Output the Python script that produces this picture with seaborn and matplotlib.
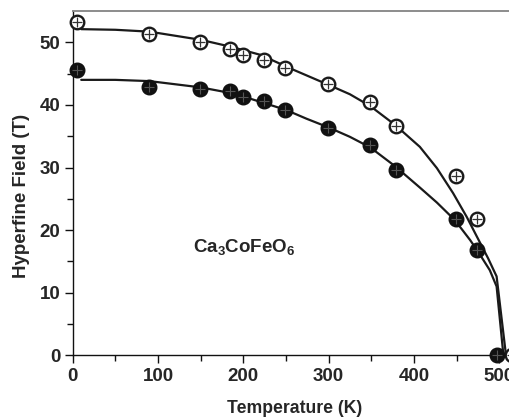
import matplotlib
matplotlib.use("Agg")
import matplotlib.pyplot as plt
import matplotlib.transforms as mtransforms
import seaborn as sns
import pandas as pd

# ---- data ----
T_open = [5, 90, 149, 184, 200, 224, 249, 299, 349, 379, 449, 474, 515]
H_open = [53.3, 51.4, 50.0, 48.9, 48.0, 47.1, 45.9, 43.3, 40.4, 36.7, 28.6, 21.8, 0.0]

T_fill = [5, 90, 149, 184, 200, 224, 249, 299, 349, 379, 449, 474, 498]
H_fill = [45.5, 42.8, 42.5, 42.2, 41.3, 40.6, 39.2, 36.3, 33.6, 29.6, 21.8, 16.8, 0.0]

T_fit_up = [10, 50, 90, 150, 185, 220, 259, 300, 325, 349, 378, 407, 427, 446, 462, 476, 487, 497, 508]
H_fit_up = [52.1, 52.0, 51.7, 50.4, 49.3, 48.0, 45.6, 43.2, 41.7, 39.8, 36.8, 33.3, 29.9, 25.9, 22.1, 18.4, 15.5, 12.6, 0.0]

T_fit_lo = [10, 50, 90, 150, 185, 208, 250, 274, 300, 325, 349, 378, 407, 427, 448, 466, 476, 489, 497, 505]
H_fit_lo = [44.0, 44.0, 43.8, 42.8, 41.9, 41.0, 39.2, 37.8, 36.4, 34.9, 33.2, 30.2, 26.8, 24.4, 21.6, 18.4, 16.4, 13.6, 11.0, 0.0]

x_ticks = [0, 100, 200, 300, 400, 500]
y_ticks = [0, 10, 20, 30, 40, 50]

sns.set_style("ticks")
plt.rcParams["font.family"] = ["Liberation Sans", "DejaVu Sans"]
plt.rcParams["font.weight"] = "bold"
plt.rcParams["mathtext.fontset"] = "custom"
plt.rcParams["mathtext.rm"] = "Liberation Sans:bold"
plt.rcParams["mathtext.it"] = "Liberation Sans:bold"
plt.rcParams["mathtext.bf"] = "Liberation Sans:bold"

W, H = 510, 417
x0, y_axis, y_top = 72.7, 355.3, 11.0
fig = plt.figure(figsize=(W / 100, H / 100), dpi=100)
ax = fig.add_axes([x0 / W, (H - y_axis) / H, 1 - x0 / W, (y_axis - y_top) / H])
ax_w, ax_h = W - x0, y_axis - y_top

df_up = pd.DataFrame({"T": T_fit_up, "H": H_fit_up})
df_lo = pd.DataFrame({"T": T_fit_lo, "H": H_fit_lo})
sns.lineplot(data=df_up, x="T", y="H", sort=False, color="#1a1a1a", lw=1.6, ax=ax)
sns.lineplot(data=df_lo, x="T", y="H", sort=False, color="#1a1a1a", lw=1.6, ax=ax)

df_o = pd.DataFrame({"T": T_open, "H": H_open})
df_f = pd.DataFrame({"T": T_fill, "H": H_fill})
sns.scatterplot(data=df_o, x="T", y="H", marker="o", s=95, facecolor="white",
                edgecolor="#1a1a1a", linewidth=1.7, ax=ax, clip_on=False, zorder=5)
sns.scatterplot(data=df_o, x="T", y="H", marker="+", s=45, color="#333333",
                linewidth=0.9, ax=ax, clip_on=False, zorder=6)
sns.scatterplot(data=df_f, x="T", y="H", marker="o", s=110, color="#111111",
                edgecolor="#111111", linewidth=1.0, ax=ax, clip_on=False, zorder=5)
sns.scatterplot(data=df_f, x="T", y="H", marker="+", s=45, color="#555555",
                linewidth=0.8, ax=ax, clip_on=False, zorder=6)

ax.set_xlim(0, 512.7)
ax.set_ylim(0, 55)
ax.set_xticks(x_ticks)
ax.set_yticks(y_ticks)
ax.set_xticks([50, 150, 250, 350, 450], minor=True)
ax.set_yticks([5, 15, 25, 35, 45], minor=True)
ax.tick_params(which="major", direction="out", length=6, width=1.0, labelsize=13.5,
               color="#111111", pad=3)
ax.tick_params(which="minor", direction="out", length=4, width=1.0, color="#111111")
for lab in ax.get_xticklabels() + ax.get_yticklabels():
    lab.set_fontweight("bold")

ax.spines["right"].set_visible(False)
ax.spines["top"].set_color("#8c8c8c")
ax.spines["top"].set_linewidth(1.4)
for s in ("left", "bottom"):
    ax.spines[s].set_color("#111111")
    ax.spines[s].set_linewidth(1.0)

ax.set_xlabel("Temperature (K)", fontsize=12.7, fontweight="bold")
ax.set_ylabel("Hyperfine Field (T)", fontsize=13.5, fontweight="bold")
ax.xaxis.set_label_coords((295 - x0) / ax_w, -(400 - y_axis) / ax_h)
ax.yaxis.set_label_coords(-(x0 - 30) / ax_w, (y_axis - 196) / ax_h)

ax.text(192.7, H - 251.7, r"Ca$_3$CoFeO$_6$", transform=mtransforms.IdentityTransform(),
        fontsize=13.5, fontweight="bold", ha="left", va="baseline")

fig.savefig("out.png", dpi=100)
